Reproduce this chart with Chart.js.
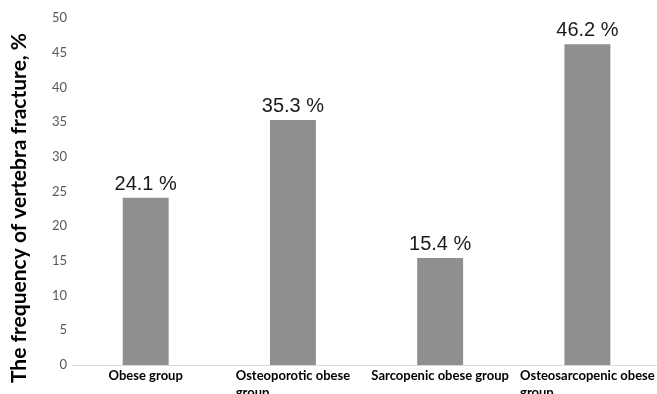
<!DOCTYPE html>
<html>
<head>
<meta charset="utf-8">
<script src="https://cdn.jsdelivr.net/npm/chart.js@4/dist/chart.umd.min.js"></script>
<style>
    html, body { margin: 0; padding: 0; background: #fff; overflow: hidden; }
    #wrap { position: absolute; left: 0; top: 0; width: 670px; height: 420px; }
</style>
</head>
<body>
<div id="wrap"><canvas id="chart" width="670" height="420"></canvas></div>
<script>
// Chart data
const categories = [
    ['Obese group'],
    ['Osteoporotic obese', 'group'],
    ['Sarcopenic obese group'],
    ['Osteosarcopenic obese', 'group']
];
const fractureRates = [24.1, 35.3, 15.4, 46.2];
const yTicks = [0, 5, 10, 15, 20, 25, 30, 35, 40, 45, 50];
const yTitle = 'The frequency of vertebra fracture, %';

const colors = {
    bar: '#8f8f8f',
    axis: '#d9d9d9',
    tick: '#595959',
    label: '#1a1a1a',
    title: '#000000'
};

// Value labels above each bar
const valueLabels = {
    id: 'valueLabels',
    afterDatasetsDraw(chart) {
        const ctx = chart.ctx;
        const meta = chart.getDatasetMeta(0);
        ctx.save();
        ctx.font = '20px "Liberation Sans", Arial, sans-serif';
        ctx.fillStyle = colors.label;
        ctx.textAlign = 'center';
        ctx.textBaseline = 'alphabetic';
        meta.data.forEach((bar, i) => {
            ctx.fillText(fractureRates[i].toFixed(1) + ' %', bar.x, bar.y - 8);
        });
        ctx.restore();
    }
};

// Category labels: first line centred, second line left aligned with it
const categoryLabels = {
    id: 'categoryLabels',
    afterDraw(chart) {
        const ctx = chart.ctx;
        const xScale = chart.scales.x;
        const top = chart.chartArea.bottom;
        ctx.save();
        ctx.font = 'bold 13px Lato, sans-serif';
        ctx.fillStyle = colors.title;
        ctx.textBaseline = 'alphabetic';
        categories.forEach((lines, i) => {
            const cx = xScale.getPixelForTick(i);
            const w = ctx.measureText(lines[0]).width;
            ctx.textAlign = 'left';
            lines.forEach((line, j) => {
                ctx.fillText(line, cx - w / 2, top + 15 + j * 17);
            });
        });
        ctx.restore();
    }
};

// Rotated y-axis title
const axisTitle = {
    id: 'axisTitle',
    afterDraw(chart) {
        const ctx = chart.ctx;
        ctx.save();
        ctx.translate(19, 208);
        ctx.rotate(-Math.PI / 2);
        ctx.font = 'bold 21px Lato, sans-serif';
        ctx.fillStyle = colors.title;
        ctx.textAlign = 'center';
        ctx.textBaseline = 'middle';
        ctx.fillText(yTitle, 0, 0);
        ctx.restore();
    }
};

const ctx = document.getElementById('chart').getContext('2d');

new Chart(ctx, {
    type: 'bar',
    data: {
        labels: categories,
        datasets: [{
            data: fractureRates,
            backgroundColor: colors.bar,
            borderWidth: 0,
            categoryPercentage: 1,
            barPercentage: 0.312
        }]
    },
    options: {
        responsive: false,
        animation: false,
        layout: {
            padding: { left: 47, top: 18, right: 9, bottom: 55 }
        },
        plugins: {
            legend: { display: false },
            tooltip: { enabled: false },
            title: { display: false }
        },
        scales: {
            x: {
                ticks: { display: false },
                grid: { display: false, drawTicks: false },
                border: { display: true, color: colors.axis, width: 1 }
            },
            y: {
                min: 0,
                max: 50,
                afterBuildTicks: (scale) => {
                    scale.ticks = yTicks.map(v => ({ value: v }));
                },
                ticks: {
                    color: colors.tick,
                    font: { family: 'Lato', size: 13 },
                    padding: 5
                },
                grid: { display: false, drawTicks: false },
                border: { display: false }
            }
        }
    },
    plugins: [valueLabels, categoryLabels, axisTitle]
});
</script>
</body>
</html>
